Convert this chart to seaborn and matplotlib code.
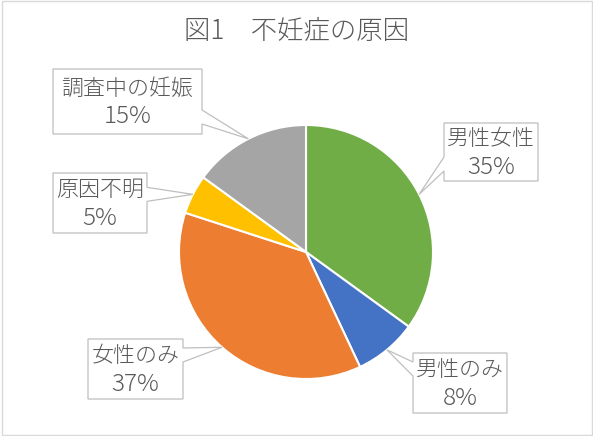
import matplotlib
matplotlib.use("Agg")
import matplotlib.pyplot as plt
from matplotlib.patches import Polygon, Rectangle
import numpy as np
import seaborn as sns

# ---- data ----
title = "図1\u3000不妊症の原因"
labels = ["男性女性", "男性のみ", "女性のみ", "原因不明", "調査中の妊娠"]
values = [35, 8, 37, 5, 15]
colors = ["#70AD47", "#4472C4", "#ED7D31", "#FFC000", "#A5A5A5"]

sns.set_style("white")
plt.rcParams["font.family"] = ["Noto Sans CJK JP", "DejaVu Sans"]

W, H = 593, 436
fig = plt.figure(figsize=(W / 100, H / 100), dpi=100)
fig.patch.set_facecolor("white")

# layout (pixels, y downward)
cx, cy, r = 306, 252, 127
ax = fig.add_axes([(cx - r) / W, (H - cy - r) / H, 2 * r / W, 2 * r / H])
wedges, _ = ax.pie(values, colors=colors, startangle=90, counterclock=False,
                   radius=1, wedgeprops=dict(edgecolor="white", linewidth=1.5))
ax.set_xlim(-1, 1)
ax.set_ylim(-1, 1)
ax.set_aspect("equal")
ax.axis("off")

# overlay in pixel coordinates
ov = fig.add_axes([0, 0, 1, 1], zorder=5)
ov.set_xlim(0, W)
ov.set_ylim(H, 0)
ov.axis("off")
ov.patch.set_alpha(0)

ov.add_patch(Rectangle((1.5, 1.5), W - 3, H - 3, fill=False,
                       edgecolor="#D9D9D9", linewidth=1.0))
ov.text(297, 31, title, ha="center", va="center", fontsize=19,
        color="#595959", fontweight="light")

boxes = [(444, 123, 538, 181), (413, 353, 507, 413), (88, 339, 183, 399),
         (53, 173, 147, 233), (53, 69, 202, 134)]

for w, lab, v, (l, t, rr, b) in zip(wedges, labels, values, boxes):
    mid = np.deg2rad((w.theta1 + w.theta2) / 2)
    tx = cx + r * np.cos(mid)
    ty = cy - r * np.sin(mid)
    bc = min(max(ty, t + 16), b - 17)
    b1, b2 = bc - 7, bc + 7
    if tx > rr:
        verts = [(l, t), (rr, t), (rr, b1), (tx, ty), (rr, b2), (rr, b), (l, b)]
    else:
        verts = [(l, t), (rr, t), (rr, b), (l, b), (l, b2), (tx, ty), (l, b1)]
    ov.add_patch(Polygon(verts, closed=True, facecolor="white",
                         edgecolor="#BFBFBF", linewidth=0.9))
    mx, my = (l + rr) / 2, (t + b) / 2
    ov.text(mx, my - 13, lab, ha="center", va="center", fontsize=15.8,
            color="#595959", fontweight="light")
    ov.text(mx, my + 15, f"{v}%", ha="center", va="center", fontsize=17.5,
            color="#595959", fontweight="light")

fig.savefig("out.png", dpi=100, facecolor="white")
